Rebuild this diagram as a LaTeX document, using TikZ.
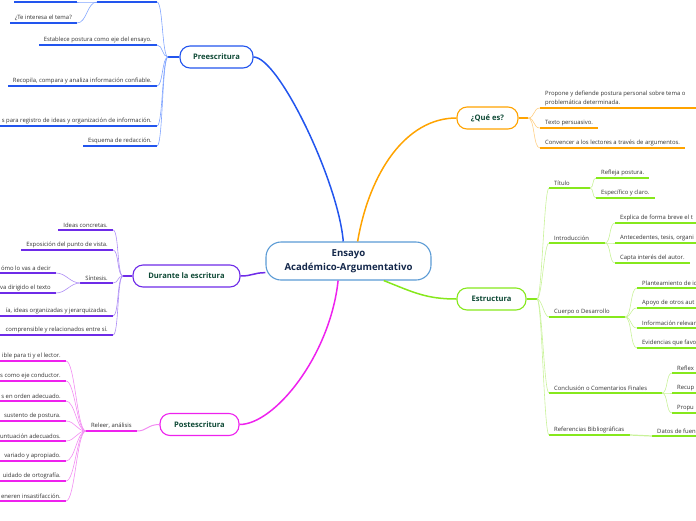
\documentclass[tikz,border=0pt]{standalone}
\usepackage{fontspec}
\setmainfont{Open Sans}
\usepackage{tikz}

\definecolor{azul}{HTML}{2255EE}
\definecolor{azulc}{HTML}{80A4FF}
\definecolor{morado}{HTML}{6E2BE8}
\definecolor{moradoc}{HTML}{AE8EF5}
\definecolor{rosa}{HTML}{EE22EE}
\definecolor{rosac}{HTML}{F28CF2}
\definecolor{naranja}{HTML}{FFA300}
\definecolor{naranjac}{HTML}{FFCF85}
\definecolor{verde}{HTML}{86E81C}
\definecolor{verdec}{HTML}{C9F29A}
\definecolor{centro}{HTML}{5B9BD5}
\definecolor{titulo}{HTML}{0F4A36}
\definecolor{marino}{HTML}{14284B}
\definecolor{tinta}{HTML}{333333}

\tikzset{
  rama/.style={draw=#1, line width=1.1pt, rounded corners=10pt, fill=white, minimum height=22pt,
    inner xsep=0pt, font=\fontsize{7.6}{9}\selectfont\bfseries, text=titulo},
  hoja/.style={font=\fontsize{5.9}{9}\selectfont, text=tinta, inner xsep=5pt, inner ysep=2.2pt},
  raya/.style={draw=#1, line width=1.2pt},
  hilo/.style={draw=#1, line width=0.6pt},
  tronco/.style={draw=#1, line width=1.5pt},
}

\begin{document}
\begin{tikzpicture}[x=1pt, y=-1pt]
  \useasboundingbox (0,0) rectangle (696,520);
  \clip (0,0) rectangle (696,520);
  \coordinate (L) at (0,0);
  \coordinate (R) at (696,0);

  % centro y ramas
  \node[draw=centro, line width=1.1pt, rounded corners=15pt, fill=white, minimum width=165pt, minimum height=38pt,
    align=center, font=\fontsize{9.6}{14}\selectfont\bfseries, text=marino] (ctr) at (348.5,261) {Ensayo\\Académico-Argumentativo};
  \node[rama=azul, minimum width=73pt] (pre) at (216.5,57) {Preescritura};
  \node[rama=naranja, minimum width=61pt] (que) at (487.5,118) {¿Qué es?};
  \node[rama=morado, minimum width=107pt] (dur) at (186.5,276) {Durante la escritura};
  \node[rama=verde, minimum width=69pt] (est) at (491.5,299) {Estructura};
  \node[rama=rosa, minimum width=79pt] (pos) at (199.5,424.5) {Postescritura};

  \draw[tronco=azul] (ctr.105) .. controls +(-5,-60) and +(25,0) .. (pre.east);
  \draw[tronco=naranja] (ctr.65) .. controls +(12,-70) and +(-50,0) .. (que.west);
  \draw[tronco=morado] (ctr.188) .. controls +(-12,0) and +(12,0) .. (dur.east);
  \draw[tronco=verde] (ctr.331) .. controls +(30,12) and +(-30,0) .. (est.west);
  \draw[tronco=rosa] (ctr.242) .. controls +(-8,75) and +(35,0) .. (pos.east);

  % Preescritura
  \coordinate (preJ) at (168,57);
  \draw[raya=azul, line width=2pt] (pre.west) -- (preJ);
  \coordinate (pa1) at (157,2); \coordinate (pa2) at (97,2); % tema cortado
  \coordinate (pb1) at (77,2); \coordinate (pb2) at (14,2);
  \draw[raya=azul] (pa1) -- (pa2);
  \draw[raya=azul] (pb1) -- (pb2);
  \node[hoja, anchor=south east] (pc) at (77,23) {¿Te interesa el tema?};
  \node[hoja, anchor=south east] (p1) at (157,45) {Establece postura como eje del ensayo.};
  \node[hoja, anchor=south east] (p2) at (157,86) {Recopila, compara y analiza información confiable.};
  \node[hoja, anchor=south east] (p3) at (157,126) {s para registro de ideas y organización de información.};
  \node[hoja, anchor=south east] (p4) at (157,146) {Esquema de redacción.};
  \foreach \n in {pc,p1,p2,p4} \draw[raya=azul] (\n.south east) -- (\n.south west);
  \draw[raya=azul] (p3.south east) -- (p3.south east -| L);
  \draw[hilo=azulc] (pa2) .. controls +(-8,0) and +(8,0) .. (pb1);
  \draw[hilo=azulc] (pa2) .. controls +(-10,0) and +(10,0) .. (pc.south east);
  \draw[hilo=azulc] (preJ) .. controls +(-6,0) and +(6,0) .. (pa1);
  \foreach \n in {p1,p2,p3,p4} \draw[hilo=azulc] (preJ) .. controls +(-6,0) and +(6,0) .. (\n.south east);

  % Durante la escritura
  \coordinate (durJ) at (123,276);
  \draw[raya=morado, line width=2pt] (dur.west) -- (durJ);
  \node[hoja, anchor=south east] (d1) at (113,230) {Ideas concretas.};
  \node[hoja, anchor=south east] (d2) at (113,250) {Exposición del punto de vista.};
  \node[hoja, anchor=south east] (d3) at (113,283) {Síntesis.};
  \node[hoja, anchor=south east] (d4) at (113,316) {ía, ideas organizadas y jerarquizadas.};
  \node[hoja, anchor=south east] (d5) at (113,335) {comprensible y relacionados entre sí.};
  \node[hoja, anchor=south east] (d31) at (56,273) {ómo lo vas a decir};
  \node[hoja, anchor=south east] (d32) at (56,293) {va dirigido el texto};
  \foreach \n in {d1,d2,d3} \draw[raya=morado] (\n.south east) -- (\n.south west);
  \foreach \n in {d4,d5,d31,d32} \draw[raya=morado] (\n.south east) -- (\n.south east -| L);
  \foreach \n in {d1,d2,d3,d4,d5} \draw[hilo=moradoc] (durJ) .. controls +(-6,0) and +(6,0) .. (\n.south east);
  \foreach \n in {d31,d32} \draw[hilo=moradoc] (d3.south west) .. controls +(-10,0) and +(10,0) .. (\n.south east);

  % Postescritura
  \node[hoja, anchor=south east] (r0) at (137,431) {Releer, análisis};
  \draw[raya=rosa] (r0.south east) -- (r0.south west);
  \draw[hilo=rosac, line width=1pt] (pos.west) .. controls +(-12,0) and +(10,0) .. (r0.south east);
  \foreach \t [count=\i] in {ible para ti y el lector., s como eje conductor., s en orden adecuado.,
      sustento de postura., untuación adecuados., variado y apropiado., uidado de ortografía.,
      eneren insastifacción.} {
    \node[hoja, anchor=south east] (r\i) at (66,341+20*\i) {\t};
    \draw[raya=rosa] (r\i.south east) -- (r\i.south east -| L);
    \draw[hilo=rosac] (r0.south west) .. controls +(-9,0) and +(9,0) .. (r\i.south east);
  }

  % ¿Qué es?
  \coordinate (queJ) at (528,118);
  \draw[raya=naranja, line width=2pt] (que.east) -- (queJ);
  \node[hoja, anchor=south west, align=left] (q1) at (540,108) {Propone y defiende postura personal sobre tema o\\problemática determinada.};
  \node[hoja, anchor=south west] (q2) at (540,128) {Texto persuasivo.};
  \node[hoja, anchor=south west] (q3) at (540,148) {Convencer a los lectores a través de argumentos.};
  \draw[raya=naranja] (q1.south west) -- (q1.south west -| R);
  \foreach \n in {q2,q3} \draw[raya=naranja] (\n.south west) -- (\n.south east);
  \foreach \n in {q1,q2,q3} \draw[hilo=naranjac] (queJ) .. controls +(7,0) and +(-7,0) .. (\n.south west);

  % Estructura
  \coordinate (estJ) at (537,299);
  \draw[raya=verde, line width=2pt] (est.east) -- (estJ);
  \node[hoja, anchor=south west] (e1) at (549,188) {Título};
  \node[hoja, anchor=south west] (e2) at (549,243) {Introducción};
  \node[hoja, anchor=south west] (e3) at (549,317) {Cuerpo o Desarrollo};
  \node[hoja, anchor=south west] (e4) at (549,393) {Conclusión o Comentarios Finales};
  \node[hoja, anchor=south west] (e5) at (549,435) {Referencias Bibliográficas};
  \coordinate (e1J) at (590,188);
  \coordinate (e2J) at (605,243);
  \coordinate (e3J) at (625,317);
  \coordinate (e4J) at (662,393);
  \coordinate (e5J) at (630,435);
  \foreach \n in {e1,e2,e3,e4,e5} {
    \draw[raya=verde] (\n.south west) -- (\n J);
    \draw[hilo=verdec] (estJ) .. controls +(5,0) and +(-5,0) .. (\n.south west);
  }
  \node[hoja, anchor=south west] (e11) at (596,178) {Refleja postura.};
  \node[hoja, anchor=south west] (e12) at (596,198) {Específico y claro.};
  \node[hoja, anchor=south west] (e21) at (615,223) {Explica de forma breve el t};
  \node[hoja, anchor=south west] (e22) at (615,243) {Antecedentes, tesis, organi};
  \node[hoja, anchor=south west] (e23) at (615,263) {Capta interés del autor.};
  \node[hoja, anchor=south west] (e31) at (637,288) {Planteamiento de id};
  \node[hoja, anchor=south west] (e32) at (637,308) {Apoyo de otros aut};
  \node[hoja, anchor=south west] (e33) at (637,328) {Información relevan};
  \node[hoja, anchor=south west] (e34) at (637,348) {Evidencias que favo};
  \node[hoja, anchor=south west] (e41) at (672,373) {Reflex};
  \node[hoja, anchor=south west] (e42) at (672,393) {Recup};
  \node[hoja, anchor=south west] (e43) at (672,413) {Propu};
  \node[hoja, anchor=south west] (e51) at (652,436) {Datos de fuen};
  \foreach \n in {e11,e12,e23} \draw[raya=verde] (\n.south west) -- (\n.south east);
  \foreach \n in {e21,e22,e31,e32,e33,e34,e41,e42,e43,e51} \draw[raya=verde] (\n.south west) -- (\n.south west -| R);
  \foreach \n in {e11,e12} \draw[hilo=verdec] (e1J) .. controls +(4,0) and +(-4,0) .. (\n.south west);
  \foreach \n in {e21,e22,e23} \draw[hilo=verdec] (e2J) .. controls +(6,0) and +(-6,0) .. (\n.south west);
  \foreach \n in {e31,e32,e33,e34} \draw[hilo=verdec] (e3J) .. controls +(7,0) and +(-7,0) .. (\n.south west);
  \foreach \n in {e41,e42,e43} \draw[hilo=verdec] (e4J) .. controls +(6,0) and +(-6,0) .. (\n.south west);
  \draw[raya=verdec] (e5J) -- (e51.south west);
\end{tikzpicture}
\end{document}
